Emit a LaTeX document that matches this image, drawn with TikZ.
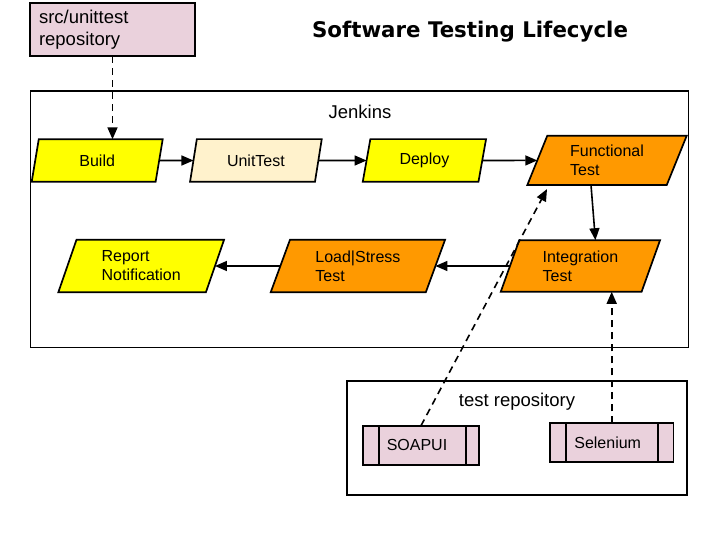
\documentclass[tikz,border=0pt]{standalone}
\usepackage{fontspec}
\setmainfont{Liberation Sans}
\newfontfamily\titlefont{DejaVu Sans}
\usetikzlibrary{shapes.geometric,arrows.meta}
\definecolor{cyellow}{HTML}{FFFF00}
\definecolor{corange}{HTML}{FF9900}
\definecolor{ccream}{HTML}{FFF2CC}
\definecolor{cpink}{HTML}{EAD1DC}
\tikzset{
  boxline/.style={draw=black, line width=1.7pt},
  pstep/.style={boxline, trapezium, trapezium stretches body, outer sep=0pt, inner sep=0pt,
    font=\fontsize{16}{19}\selectfont, align=left},
  pangle/.style={trapezium left angle=#1, trapezium right angle={180-#1}},
  arr/.style={line width=1.6pt, -{Triangle[length=12pt,width=10pt]}},
  darr/.style={arr, dash pattern=on 7pt off 5pt},
  procbox/.style={boxline, fill=cpink, rectangle, outer sep=0pt, font=\fontsize{16}{19}\selectfont},
  bigtext/.style={font=\fontsize{18.5}{22.5}\selectfont, inner sep=0pt},
}
\begin{document}
\begin{tikzpicture}[x=1pt,y=-1pt]
\useasboundingbox (0,0) rectangle (720,540);
\fill[white] (0,0) rectangle (720,540);

% containers
\node[boxline, rectangle, minimum width=658pt, minimum height=256.5pt, outer sep=0pt] (jenkins) at (359.5,219.2) {};
\node[bigtext] (jenkinslabel) at (360,112) {Jenkins};
\node[boxline, rectangle, minimum width=339.4pt, minimum height=114.3pt, outer sep=0pt] (testrepo) at (517,437.85) {};
\node[bigtext] (testrepolabel) at (517,401.7) {test repository};

% source repository
\node[boxline, fill=cpink, rectangle, minimum width=165pt, minimum height=53pt, text width=147pt,
  inner xsep=9pt, align=left, outer sep=0pt, font=\fontsize{18.5}{22.5}\selectfont] (src) at (112.5,29.7) {src/unittest\\repository};

% title
\node[inner sep=0pt] (title) at (470,32) {\resizebox*{316pt}{21pt}{\titlefont\bfseries Software Testing Lifecycle}};

% steps
\node[pstep, pangle=59, fill=cyellow, minimum width=131pt, minimum height=42.4pt] (build) at (97.2,160.5) {Build};
\node[pstep, pangle=60, fill=ccream, minimum width=131.7pt, minimum height=42.7pt] (unittest) at (255.9,160.5) {UnitTest};
\node[pstep, pangle=63, fill=cyellow, minimum width=123.3pt, minimum height=42.7pt] (deploy) at (424.4,160.5) {Deploy};
\node[pstep, pangle=57, fill=corange, minimum width=159.4pt, minimum height=49.3pt] (func) at (607,160.4) {Functional\\Test};
\node[pstep, pangle=59, fill=corange, minimum width=159.3pt, minimum height=51.6pt] (integ) at (580.4,266) {Integration\\Test};
\node[pstep, pangle=58, fill=corange, minimum width=174.3pt, minimum height=52.4pt] (load) at (357.9,266) {Load|Stress\\Test};
\node[pstep, pangle=59, fill=cyellow, minimum width=165.7pt, minimum height=52.4pt] (report) at (141.2,266) {Report\\Notification};

% test tools
\node[procbox, minimum width=116.6pt, minimum height=39.3pt] (soap) at (421,445.35) {\hspace*{-8pt}SOAPUI};
\draw[line width=1.7pt] ([xshift=16.3pt]soap.north west) -- ([xshift=16.3pt]soap.south west);
\draw[line width=1.7pt] ([xshift=-13.6pt]soap.north east) -- ([xshift=-13.6pt]soap.south east);
\node[procbox, minimum width=123.3pt, minimum height=38.4pt] (sel) at (611.7,442.5) {\hspace*{-8pt}Selenium};
\draw[line width=1.7pt] ([xshift=15.7pt]sel.north west) -- ([xshift=15.7pt]sel.south west);
\draw[line width=1.7pt] ([xshift=-15.6pt]sel.north east) -- ([xshift=-15.6pt]sel.south east);

% connectors
\draw[darr] (src.south) -- (src.south |- build.north);
\draw[arr] (build) -- (unittest);
\draw[arr] (unittest) -- (deploy);
\draw[arr] (deploy) -- (func);
\draw[arr] ([xshift=-16pt]func.south) -- ([xshift=15pt]integ.north);
\draw[arr] (integ) -- (load);
\draw[arr] (load) -- (report);
\draw[darr] (soap.north) -- ([xshift=-60pt,yshift=-4pt]func.south);
\draw[darr] (sel.north) -- (sel.north |- integ.south);
\end{tikzpicture}
\end{document}
